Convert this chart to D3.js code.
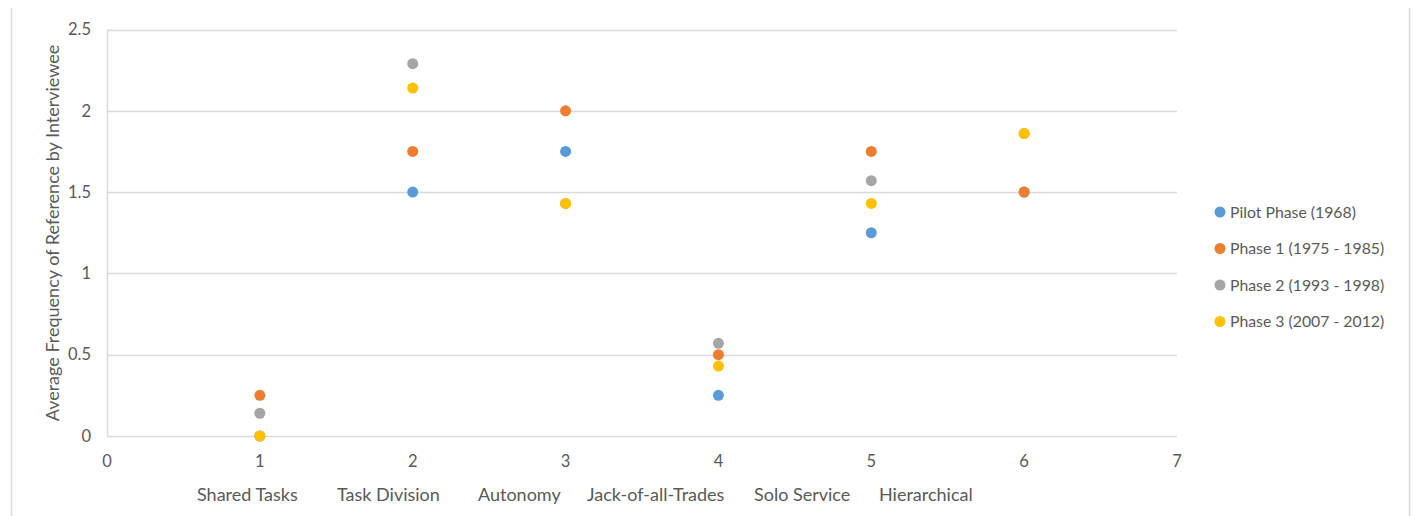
<!DOCTYPE html>
<html>
<head>
<meta charset="utf-8">
<script src="https://cdn.jsdelivr.net/npm/d3@7"></script>
<style>
  body { margin: 0; background: #fff; }
  svg text { font-family: Lato, "Open Sans", sans-serif; fill: #595959; }
</style>
</head>
<body>
<svg id="chart" width="1413" height="516"></svg>
<script>
(function () {
  'use strict';

  // ── Data ────────────────────────────────────────────────────────────────────
  var xPositions = [1, 2, 3, 4, 5, 6];
  var categories = ['Shared Tasks', 'Task Division', 'Autonomy', 'Jack-of-all-Trades', 'Solo Service', 'Hierarchical'];
  var seriesNames = ['Pilot Phase (1968)', 'Phase 1 (1975 - 1985)', 'Phase 2 (1993 - 1998)', 'Phase 3 (2007 - 2012)'];
  var pilotValues  = [0,    1.5,  1.75, 0.25, 1.25, 1.5];
  var phase1Values = [0.25, 1.75, 2.0,  0.5,  1.75, 1.5];
  var phase2Values = [0.14, 2.29, 1.43, 0.57, 1.57, 1.86];
  var phase3Values = [0,    2.14, 1.43, 0.43, 1.43, 1.86];
  var xTicks = [0, 1, 2, 3, 4, 5, 6, 7];
  var yTicks = [0, 0.5, 1, 1.5, 2, 2.5];

  var COLORS = ['#5b9bd5', '#ed7d31', '#a5a5a5', '#ffc000'];
  // left edges of the category text row (a separate text line under the axis)
  var CAT_LEFT = [197, 337, 478, 587, 754, 879];

  var series = [pilotValues, phase1Values, phase2Values, phase3Values].map(function (vals, i) {
    return {
      name: seriesNames[i],
      color: COLORS[i],
      points: vals.map(function (v, j) { return { x: xPositions[j], y: v }; })
    };
  });

  var svg = d3.select('#chart');

  // outer frame (only side edges visible)
  svg.append('line').attr('x1', 11.5).attr('x2', 11.5).attr('y1', 8).attr('y2', 516)
    .attr('stroke', '#d9d9d9').attr('stroke-width', 1.5);
  svg.append('line').attr('x1', 1409.5).attr('x2', 1409.5).attr('y1', 8).attr('y2', 516)
    .attr('stroke', '#d9d9d9').attr('stroke-width', 1.5);

  var x = d3.scaleLinear().domain([0, 7]).range([107, 1177]);
  var y = d3.scaleLinear().domain([0, 2.5]).range([436, 29.5]);

  // ── Gridlines ───────────────────────────────────────────────────────────────
  svg.append('g')
    .selectAll('line')
    .data(yTicks)
    .join('line')
    .attr('x1', x(0)).attr('x2', x(7))
    .attr('y1', function (d) { return Math.round(y(d)) + 0.5; })
    .attr('y2', function (d) { return Math.round(y(d)) + 0.5; })
    .attr('stroke', '#d9d9d9')
    .attr('stroke-width', 1.5);

  svg.append('line')
    .attr('x1', x(0) + 0.5).attr('x2', x(0) + 0.5)
    .attr('y1', y(2.5)).attr('y2', y(0))
    .attr('stroke', '#d9d9d9')
    .attr('stroke-width', 1.5);

  // ── Axes labels ─────────────────────────────────────────────────────────────
  svg.append('g')
    .selectAll('text')
    .data(yTicks)
    .join('text')
    .attr('x', 91)
    .attr('y', function (d) { return y(d); })
    .attr('dy', '0.35em')
    .attr('text-anchor', 'end')
    .style('font-size', '16.5px')
    .text(function (d) { return d; });

  svg.append('g')
    .selectAll('text')
    .data(xTicks)
    .join('text')
    .attr('x', function (d) { return x(d); })
    .attr('y', 461)
    .attr('dy', '0.35em')
    .attr('text-anchor', 'middle')
    .style('font-size', '16.5px')
    .text(function (d) { return d; });

  svg.append('g')
    .selectAll('text')
    .data(categories)
    .join('text')
    .attr('x', function (d, i) { return CAT_LEFT[i]; })
    .attr('y', 495)
    .attr('dy', '0.35em')
    .style('font-size', '18px')
    .text(function (d) { return d; });

  svg.append('text')
    .attr('transform', 'translate(53,233) rotate(-90)')
    .attr('text-anchor', 'middle')
    .attr('dy', '0.35em')
    .style('font-size', '18px')
    .text('Average Frequency of Reference by Interviewee');

  // ── Points ──────────────────────────────────────────────────────────────────
  series.forEach(function (s) {
    svg.append('g')
      .selectAll('circle')
      .data(s.points)
      .join('circle')
      .attr('cx', function (d) { return x(d.x); })
      .attr('cy', function (d) { return y(d.y); })
      .attr('r', 5.5)
      .attr('fill', s.color);
  });

  // ── Legend ──────────────────────────────────────────────────────────────────
  var legend = svg.append('g')
    .selectAll('g')
    .data(series)
    .join('g')
    .attr('transform', function (d, i) { return 'translate(1220,' + (212 + i * 36.5) + ')'; });

  legend.append('circle').attr('r', 5.5).attr('fill', function (d) { return d.color; });
  legend.append('text')
    .attr('x', 10)
    .attr('dy', '0.35em')
    .style('font-size', '15.8px')
    .text(function (d) { return d.name; });
})();
</script>
</body>
</html>
